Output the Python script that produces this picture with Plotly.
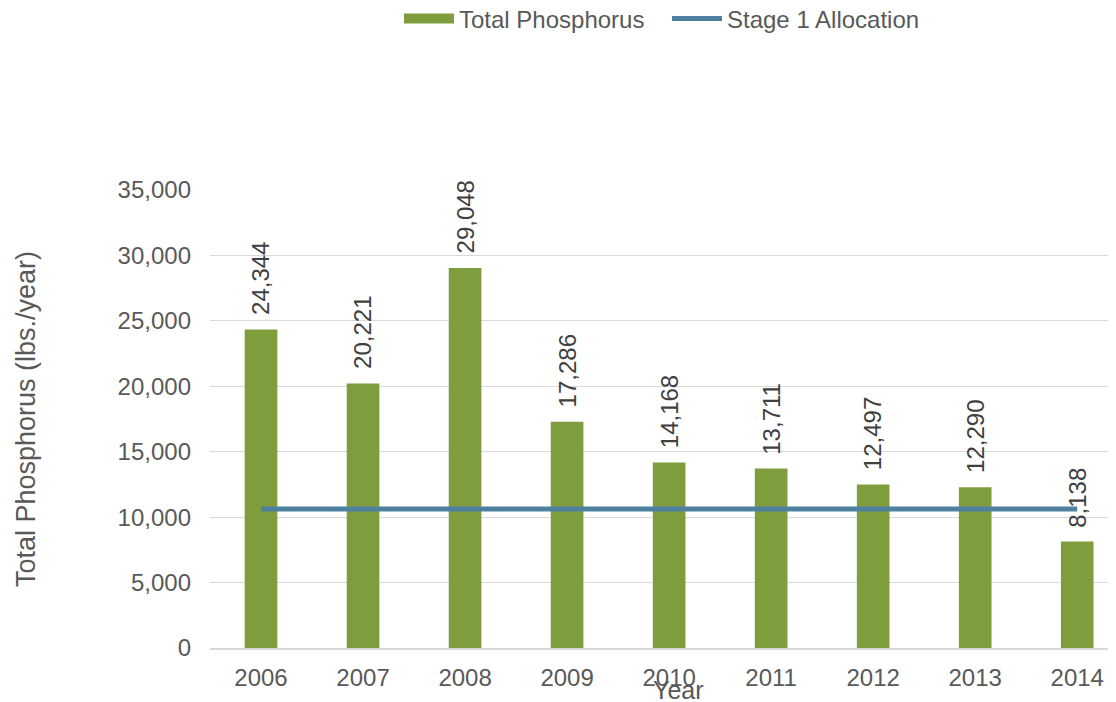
import plotly.graph_objects as go

years = ["2006", "2007", "2008", "2009", "2010", "2011", "2012", "2013", "2014"]
total_phosphorus = [24344, 20221, 29048, 17286, 14168, 13711, 12497, 12290, 8138]
stage1_allocation = [10620] * len(years)
y_ticks = [0, 5000, 10000, 15000, 20000, 25000, 30000, 35000]

green = "#7E9E3E"
blue = "#4E81A0"
font = "Liberation Sans, Arial, sans-serif"
txt = "#595959"

W, H = 1108, 694

fig = go.Figure()
fig.add_trace(go.Bar(
    x=years, y=total_phosphorus, name="Total Phosphorus",
    marker=dict(color=green, line=dict(width=0)), width=0.32,
    showlegend=False,
))
# legend proxy for the bar series (wide rectangle swatch)
fig.add_trace(go.Scatter(
    x=[None], y=[None], name="Total Phosphorus", mode="lines",
    line=dict(color=green, width=12),
))
fig.add_trace(go.Scatter(
    x=years, y=stage1_allocation, name="Stage 1 Allocation", mode="lines",
    line=dict(color=blue, width=5),
))

for i, v in enumerate(total_phosphorus):
    fig.add_annotation(
        x=i, y=v, text=f"{v:,}", textangle=-90, showarrow=False,
        yanchor="bottom", xanchor="center", yshift=12,
        font=dict(family=font, size=24, color="#404040"),
    )

fig.add_annotation(
    xref="paper", yref="paper", x=(670 - 202) / 906, y=-42 / 458,
    text="Year", showarrow=False, xanchor="center", yanchor="middle",
    font=dict(family=font, size=25, color=txt),
)

fig.update_layout(
    width=W, height=H,
    margin=dict(l=202, r=0, t=182, b=54, autoexpand=False),
    plot_bgcolor="white", paper_bgcolor="white",
    font=dict(family=font, size=24, color=txt),
    showlegend=True,
    legend=dict(orientation="h", x=391 / W, xanchor="left", y=1 - 11 / H, yanchor="middle",
                xref="container", yref="container", font=dict(size=24, color=txt),
                itemwidth=50, entrywidth=203, entrywidthmode="pixels",
                traceorder="normal", bgcolor="rgba(0,0,0,0)"),
    xaxis=dict(
        type="category", range=[-0.5, 8.38], showgrid=False, automargin=False,
        showline=True, linecolor="#D9D9D9", linewidth=1.5,
        ticks="", tickfont=dict(size=24, color=txt), ticklabelstandoff=7,
    ),
    yaxis=dict(
        range=[0, 35000], tickvals=y_ticks, tickformat=",", automargin=False,
        showgrid=True, gridcolor="#D9D9D9", gridwidth=1,
        zeroline=False, showline=False, ticks="",
        ticklabelstandoff=18,
        tickfont=dict(size=24, color=txt),
        title=dict(text="Total Phosphorus (lbs./year)", font=dict(size=27, color=txt), standoff=74),
    ),
)

fig.write_html("out.html")
